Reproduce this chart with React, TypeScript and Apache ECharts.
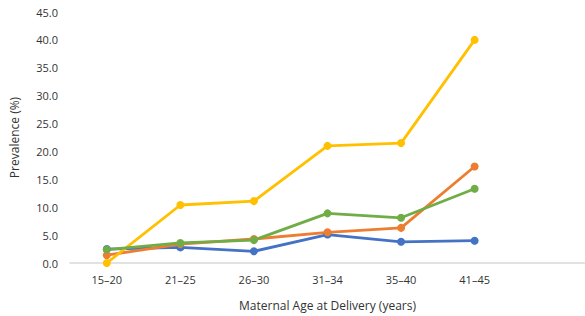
import React, { useEffect, useRef } from "react";
import * as echarts from "echarts";

const categories = ["15–20", "21–25", "26–30", "31–34", "35–40", "41–45", ""];
const blueSeries = [2.5, 2.8, 2.1, 5.1, 3.8, 4.0];
const orangeSeries = [1.4, 3.4, 4.3, 5.5, 6.3, 17.3];
const yellowSeries = [0.0, 10.4, 11.1, 21.0, 21.5, 40.0];
const greenSeries = [2.4, 3.6, 4.1, 8.9, 8.1, 13.3];
const yTicks = { min: 0, max: 45, interval: 5 };

const FONT = "'Open Sans', 'Liberation Sans', sans-serif";

export default function App() {
  const ref = useRef<HTMLDivElement>(null);
  useEffect(() => {
    if (!ref.current) return;
    const chart = echarts.init(ref.current, undefined, { renderer: "svg" });
    const mk = (name: string, data: number[], color: string) => ({
      name,
      type: "line",
      data,
      symbol: "circle",
      symbolSize: 8,
      lineStyle: { color, width: 2.8 },
      itemStyle: { color },
    });
    chart.setOption({
      animation: false,
      grid: { left: 66, top: 12, bottom: 50, width: 523 },
      xAxis: {
        type: "category",
        data: categories,
        boundaryGap: true,
        axisLine: { lineStyle: { color: "#D9D9D9", width: 1.5 } },
        axisTick: { show: false },
        axisLabel: { color: "#333333", fontSize: 11, fontFamily: FONT, margin: 11 },
        name: "Maternal Age at Delivery (years)",
        nameLocation: "middle",
        nameGap: 36,
        nameTextStyle: { color: "#333333", fontSize: 12, fontFamily: FONT },
      },
      yAxis: {
        type: "value",
        min: yTicks.min,
        max: yTicks.max,
        interval: yTicks.interval,
        splitLine: { show: false },
        axisLine: { show: false },
        axisTick: { show: false },
        axisLabel: {
          color: "#333333",
          fontSize: 11,
          fontFamily: FONT,
          margin: 12,
          formatter: (v: number) => v.toFixed(1),
        },
        name: "Prevalence (%)",
        nameLocation: "middle",
        nameGap: 50,
        nameTextStyle: { color: "#333333", fontSize: 12, fontFamily: FONT },
      },
      series: [
        mk("Blue", blueSeries, "#4472C4"),
        mk("Orange", orangeSeries, "#ED7D31"),
        mk("Yellow", yellowSeries, "#FFC000"),
        mk("Green", greenSeries, "#70AD47"),
      ],
    });
    return () => chart.dispose();
  }, []);
  return (
    <div
      ref={ref}
      style={{ position: "fixed", left: 0, top: 0, width: 585, height: 316, background: "#fff" }}
    />
  );
}
